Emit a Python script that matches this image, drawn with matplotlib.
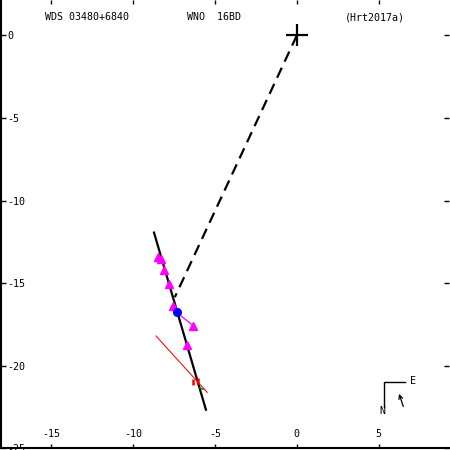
import matplotlib
matplotlib.use("Agg")
import matplotlib.pyplot as plt

plt.rcParams['axes.unicode_minus'] = False
plt.rcParams['font.family'] = 'DejaVu Sans Mono'

# orbit line and line from primary to periastron
orbit_x = [-8.72, -5.55]
orbit_y = [-11.94, -22.67]
peri_x = [0.0, -7.45]
peri_y = [0.0, -15.85]

# measurements (magenta triangles)
obs_x = [-8.48, -8.29, -8.11, -7.80, -7.54, -6.32, -6.73]
obs_y = [-13.39, -13.52, -14.22, -15.05, -16.36, -17.58, -18.73]

# predicted position + residual
pred_x = [-7.34]
pred_y = [-16.77]
resid_x = [-7.34, -6.32]
resid_y = [-16.77, -17.58]

# red line and marks
red_x = [-8.60, -5.47]
red_y = [-18.20, -21.62]
redmark_x = [-6.31, -6.01]
redmark_y = [-21.00, -20.90]
green_x = [-5.98, -5.72]
green_y = [-21.33, -21.43]

xticks = [-15, -10, -5, 0, 5]
yticks = [0, -5, -10, -15, -20, -25]

fig = plt.figure(figsize=(4.5, 4.5), dpi=100)
ax = fig.add_axes([0.002, 0.004, 0.996, 0.996])
ax.set_xlim(-18.07, 9.30)
ax.set_ylim(-25.0, 2.15)

ax.plot(orbit_x, orbit_y, color='black', lw=1.6)
ax.plot(peri_x, peri_y, color='black', lw=1.6, ls=(0, (5, 3)))
ax.plot([0], [0], marker='+', color='black', ms=16, mew=1.6)
ax.plot(red_x, red_y, color='red', lw=0.75)
ax.plot(resid_x, resid_y, color='magenta', lw=0.9)
ax.plot(obs_x, obs_y, ls='none', marker='^', color='magenta', ms=5.5)
ax.plot(pred_x, pred_y, ls='none', marker='o', color='blue', ms=5.5)
ax.plot(redmark_x, redmark_y, ls='none', marker='|', color='red', ms=5, mew=1.8)
ax.plot(green_x, green_y, color='green', lw=1)

ax.set_xticks(xticks)
ax.set_yticks(yticks)
for s in ['top', 'right']:
    ax.spines[s].set_visible(False)
for s in ['left', 'bottom']:
    ax.spines[s].set_linewidth(1.5)

ax.tick_params(axis='x', direction='in', top=True, bottom=True, length=3,
               labelsize=7.2, pad=-13.5, width=1)
ax.tick_params(axis='y', direction='in', left=True, right=True, length=3.5,
               labelsize=7.2, pad=-4.5, width=1)
for t in ax.get_yticklabels():
    t.set_ha('left')

def fr(px, py):
    return px / 449.0, 1 - py / 448.0

ax.text(*fr(44, 17), 'WDS 03480+6840', transform=ax.transAxes, fontsize=7.2,
        ha='left', va='center')
ax.text(*fr(186, 17), 'WNO  16BD', transform=ax.transAxes, fontsize=7.2,
        ha='left', va='center')
ax.text(*fr(345, 17), '(Hrt2017a)', transform=ax.transAxes, fontsize=7.2,
        ha='left', va='center')

# compass
cx = [fr(405, 381.5)[0], fr(383.5, 381.5)[0], fr(383.5, 407)[0]]
cy = [fr(405, 381.5)[1], fr(383.5, 381.5)[1], fr(383.5, 407)[1]]
ax.plot(cx, cy, color='black', lw=1, transform=ax.transAxes)
ax.text(*fr(413, 381), 'E', transform=ax.transAxes, fontsize=7.2,
        ha='center', va='center')
ax.text(*fr(382, 411), 'N', transform=ax.transAxes, fontsize=7.2,
        ha='center', va='center')
ax.annotate('', xy=fr(398, 391), xytext=fr(404, 409), xycoords='axes fraction',
            textcoords='axes fraction',
            arrowprops=dict(arrowstyle='->', lw=0.9, color='black',
                            mutation_scale=7))

plt.savefig('out.png', dpi=100)
